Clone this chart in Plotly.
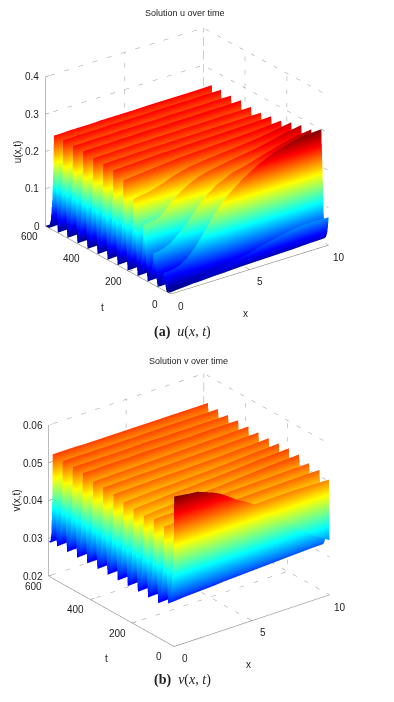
import math
import plotly.graph_objects as go

# ---------- data ----------
x_grid = [0, 0.5, 1, 1.5, 2, 2.5, 3, 3.5, 4, 5, 6, 7, 8, 9, 10]

u_times = [0, 35, 83, 131, 179, 227, 275, 323, 371, 419, 467, 515, 559]
u_crests = [
    [.005,.008,.012,.016,.020,.024,.027,.031,.036,.045,.057,.066,.074,.076,.075],
    [.045,.047,.052,.066,.088,.117,.148,.175,.198,.232,.258,.277,.290,.298,.300],
    [.083,.087,.095,.112,.132,.155,.180,.200,.215,.235,.245,.258,.270,.280,.285],
    [.144,.147,.152,.172,.192,.208,.220,.229,.235,.243,.250,.256,.265,.275,.282],
    [.200,.204,.207,.213,.220,.229,.235,.240,.243,.248,.252,.256,.261,.268,.275],
    [.236,.238,.240,.242,.244,.246,.248,.250,.251,.253,.255,.257,.259,.262,.265],
    [.248,.249,.250,.251,.252,.253,.254,.254,.255,.256,.257,.258,.259,.260,.262],
    [.250,.251,.252,.252,.253,.253,.254,.254,.254,.255,.255,.256,.256,.257,.257],
    [.251,.252,.252,.253,.253,.254,.254,.254,.255,.255,.256,.256,.257,.257,.258],
    [.255,.256,.256,.256,.257,.257,.257,.258,.258,.258,.259,.259,.260,.260,.261],
    [.255,.255,.256,.256,.256,.256,.257,.257,.257,.257,.258,.258,.258,.259,.259],
    [.256,.256,.257,.257,.257,.257,.258,.258,.258,.258,.259,.259,.259,.260,.260],
    [.255,.255,.256,.256,.256,.256,.257,.257,.257,.257,.258,.258,.258,.258,.259],
]
u_floor = [.000,.001,.001,.002,.002,.003,.004,.004,.005,.006,.007,.008,.009,.011,.012]

v_times = [0, 2, 48, 97, 145, 194, 242, 290, 339, 387, 436, 484, 532, 580]
v_crests = [
    [.0598,.0595,.0592,.0590,.0582,.0574,.0564,.0550,.0535,.0511,.0475,.0437,.0403,.0370,.0345],
    [.0495,.0496,.0497,.0498,.0499,.0500,.0501,.0502,.0503,.0505,.0506,.0507,.0507,.0506,.0505],
    [.0503,.0504,.0505,.0506,.0507,.0508,.0509,.0510,.0511,.0512,.0513,.0514,.0515,.0516,.0516],
    [.0507,.0508,.0508,.0509,.0510,.0510,.0511,.0512,.0512,.0514,.0515,.0516,.0517,.0518,.0519],
    [.0501,.0503,.0505,.0506,.0508,.0509,.0510,.0511,.0512,.0514,.0517,.0520,.0523,.0525,.0527],
    [.0504,.0506,.0507,.0508,.0510,.0511,.0512,.0513,.0514,.0516,.0518,.0521,.0524,.0526,.0528],
    [.0507,.0508,.0509,.0510,.0511,.0512,.0512,.0513,.0514,.0515,.0517,.0519,.0522,.0524,.0526],
    [.0513,.0514,.0514,.0515,.0515,.0516,.0516,.0517,.0517,.0518,.0519,.0520,.0522,.0523,.0525],
    [.0516,.0516,.0517,.0517,.0518,.0518,.0518,.0519,.0519,.0520,.0521,.0522,.0523,.0524,.0525],
    [.0516,.0517,.0517,.0518,.0518,.0519,.0519,.0520,.0520,.0521,.0522,.0523,.0524,.0525,.0526],
    [.0524,.0524,.0524,.0525,.0525,.0525,.0525,.0526,.0526,.0526,.0526,.0526,.0527,.0527,.0527],
    [.0525,.0525,.0525,.0525,.0525,.0525,.0525,.0525,.0526,.0526,.0526,.0526,.0526,.0526,.0526],
    [.0526,.0526,.0526,.0526,.0526,.0526,.0526,.0526,.0526,.0526,.0527,.0527,.0527,.0527,.0527],
    [.0529,.0529,.0529,.0529,.0528,.0528,.0528,.0528,.0528,.0528,.0528,.0528,.0528,.0528,.0528],
]
v_floor_first = [.0305,.0306,.0308,.0309,.0310,.0311,.0312,.0314,.0315,.0317,.0319,.0321,.0323,.0325,.0326]
v_floor = [.0291,.0292,.0293,.0294,.0295,.0296,.0297,.0298,.0299,.0301,.0303,.0305,.0307,.0309,.0311]

# fall of a ridge towards the next one: fraction of the period, fraction of the height left
fall_steps = [0.08, 0.20, 0.36, 0.58]
fall_left = [0.62, 0.30, 0.10, 0.0]

u_ticks = {"x": [0, 5, 10], "t": [0, 200, 400, 600], "z": [0, 0.1, 0.2, 0.3, 0.4]}
v_ticks = {"x": [0, 5, 10], "t": [0, 200, 400, 600], "z": [0.02, 0.03, 0.04, 0.05, 0.06]}
u_z_labels = ["0", "0.1", "0.2", "0.3", "0.4"]
v_z_labels = ["0.02", "0.03", "0.04", "0.05", "0.06"]

jet = [[0, "rgb(0,0,143)"], [0.11, "rgb(0,0,255)"], [0.36, "rgb(0,255,255)"],
       [0.61, "rgb(255,255,0)"], [0.86, "rgb(255,0,0)"], [1, "rgb(128,0,0)"]]

W, H = 394, 702
FONT = "Liberation Sans"
TXT = "#222222"


def sheet(times, crests, floors, end_t):
    rows_t, rows_z = [], []
    for i, tk in enumerate(times):
        nxt = times[i + 1] if i + 1 < len(times) else end_t
        gap = nxt - tk
        rows_t.append(tk)
        rows_z.append(list(crests[i]))
        fl = floors[i]
        for s, l in zip(fall_steps, fall_left):
            if gap < 6:
                break
            rows_t.append(tk + s * gap)
            rows_z.append([f + (c - f) * l for c, f in zip(crests[i], fl)])
    if rows_t[-1] < end_t:
        rows_t.append(end_t)
        rows_z.append(list(floors[-1]))
    return rows_t, rows_z


def frame(scene, ticks, t_max, x_max, col_dot="#9a9a9a", col_ax="#777777"):
    zlo, zhi = ticks["z"][0], ticks["z"][-1]
    dot, sol = ([], [], []), ([], [], [])

    def seg(store, a, b):
        for s, p, q in zip(store, a, b):
            s.extend([p, q, None])

    for z in ticks["z"][1:]:
        seg(dot, (0, t_max, z), (x_max, t_max, z))
        seg(dot, (x_max, t_max, z), (x_max, 0, z))
    for x in ticks["x"][1:]:
        seg(dot, (x, 0, zlo), (x, t_max, zlo))
        seg(dot, (x, t_max, zlo), (x, t_max, zhi))
    for t in ticks["t"][1:]:
        seg(dot, (0, t, zlo), (x_max, t, zlo))
        seg(dot, (x_max, t, zlo), (x_max, t, zhi))
    seg(sol, (0, 0, zlo), (x_max, 0, zlo))
    seg(sol, (0, 0, zlo), (0, t_max, zlo))
    seg(sol, (0, t_max, zlo), (0, t_max, zhi))
    for z in ticks["z"]:
        seg(sol, (0, t_max, z), (0.25, t_max, z))
    for x in ticks["x"]:
        seg(sol, (x, 0, zlo), (x, 15, zlo))
    for t in ticks["t"]:
        seg(sol, (0, t, zlo), (0.25, t, zlo))
    return [
        go.Scatter3d(x=dot[0], y=dot[1], z=dot[2], mode="lines", scene=scene, hoverinfo="skip",
                     showlegend=False, line=dict(color=col_dot, width=1, dash="dot")),
        go.Scatter3d(x=sol[0], y=sol[1], z=sol[2], mode="lines", scene=scene, hoverinfo="skip",
                     showlegend=False, line=dict(color=col_ax, width=1)),
    ]


def note(x, y, z, text, xs, ys, size=10, angle=0):
    return dict(x=x, y=y, z=z, text=text, showarrow=False, xshift=xs, yshift=ys, textangle=angle,
                font=dict(family=FONT, size=size, color=TXT))


def scene_cfg(ticks, z_labels, z_title, title_shift, alpha, theta, aspect, r, domx, domy, xhi=10, thi=600):
    a = math.radians(alpha)
    e = math.radians(theta)
    hidden = dict(visible=False, showgrid=False, zeroline=False, showline=False, showticklabels=False,
                  showspikes=False, showbackground=False, title="")
    notes = []
    zlo, zhi = ticks["z"][0], ticks["z"][-1]
    for z, lab in zip(ticks["z"], z_labels):
        notes.append(note(0, thi, z, lab, -5 - 2.6 * len(lab), 0))
    for t in ticks["t"]:
        notes.append(note(0, t, zlo, str(t), -15, -10))
    for x in ticks["x"]:
        notes.append(note(x, 0, zlo, str(x), 10.5, -12))
    notes.append(note(5, 0, zlo, "x", -4, -44))
    notes.append(note(0, 300, zlo, "t", -5, -47))
    notes.append(note(0, thi, (zlo + zhi) / 2, z_title, title_shift, 0, angle=-90))
    return dict(
        domain=dict(x=[domx[0] / W, domx[1] / W], y=[1 - domy[1] / H, 1 - domy[0] / H]),
        xaxis=dict(range=[0, xhi], **hidden),
        yaxis=dict(range=[0, thi], **hidden),
        zaxis=dict(range=[zlo, zhi], **hidden),
        aspectmode="manual",
        aspectratio=dict(x=aspect[0], y=aspect[1], z=aspect[2]),
        camera=dict(
            projection=dict(type="orthographic"),
            center=dict(x=0, y=0, z=0),
            up=dict(x=0, y=0, z=1),
            eye=dict(x=-r * math.sin(a) * math.cos(e), y=-r * math.cos(a) * math.cos(e), z=r * math.sin(e)),
        ),
        bgcolor="white",
        annotations=notes,
    )


flat = dict(ambient=1, diffuse=0, specular=0, roughness=1, fresnel=0)

ut, uz = sheet(u_times, u_crests, [u_floor] * len(u_times), 600)
vt, vz = sheet(v_times, v_crests, [v_floor_first] * 2 + [v_floor] * (len(v_times) - 2), 600)

fig = go.Figure()
fig.add_trace(go.Surface(x=x_grid, y=ut, z=uz, colorscale=jet, cmin=0, cmax=0.30, showscale=False,
                         lighting=flat, hoverinfo="skip", scene="scene"))
for tr in frame("scene", u_ticks, 600, 10):
    fig.add_trace(tr)
fig.add_trace(go.Surface(x=x_grid, y=vt, z=vz, colorscale=jet, cmin=0.026, cmax=0.0596, showscale=False,
                         lighting=flat, hoverinfo="skip", scene="scene2"))
for tr in frame("scene2", v_ticks, 600, 10):
    fig.add_trace(tr)


def paper(xp, yp, text, size=10, family=FONT):
    return dict(x=xp / W, y=1 - yp / H, xref="paper", yref="paper", text=text, showarrow=False,
                xanchor="center", yanchor="middle", font=dict(family=family, size=size, color=TXT))


R = 2.165
S = 1.32
fig.update_layout(
    width=W, height=H, margin=dict(l=0, r=0, t=0, b=0), paper_bgcolor="white", showlegend=False,
    scene=scene_cfg(u_ticks, u_z_labels, "u(x,t)", -27, 37.1, 24.2, (S, S * 1.05, 0.826 * S), R, (26.5, 346.5), (11, 311)),
    scene2=scene_cfg(v_ticks, v_z_labels, "v(x,t)", -32, 37.6, 25.6, (0.99 * S, S * 1.04, 0.845 * S), R, (29.3, 349.3), (360.2, 660.2)),
    annotations=[
        paper(185, 13, "Solution u over time", 9),
        paper(188, 361, "Solution v over time", 9),
        paper(182, 332, "<b>(a)</b>  <i>u</i>(<i>x</i>, <i>t</i>)", 14, "Liberation Serif"),
        paper(182, 680, "<b>(b)</b>  <i>v</i>(<i>x</i>, <i>t</i>)", 14, "Liberation Serif"),
    ],
)
fig.write_html("out.html", config={"displayModeBar": False},
               post_script="document.body.style.margin='0';")
